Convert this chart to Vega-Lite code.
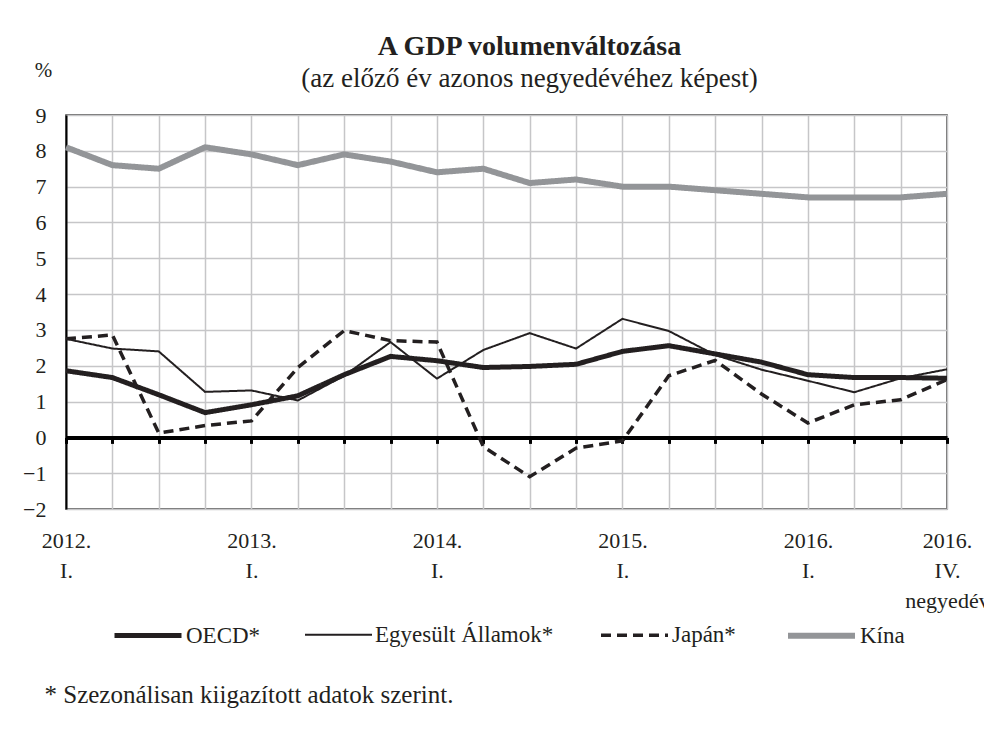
{
  "$schema": "https://vega.github.io/schema/vega-lite/v6.json",
  "autosize": {"type": "none"},
  "padding": {"left": 66, "top": 115, "right": 37, "bottom": 233},
  "width": 881,
  "height": 394,
  "background": "white",
  "config": {
    "font": "Liberation Serif",
    "view": {"stroke": "#3a3a3a", "strokeWidth": 1.5},
    "axis": {"labelFont": "Liberation Serif", "titleFont": "Liberation Serif", "labelColor": "#231f20", "titleColor": "#231f20"}
  },
  "title": {
    "text": "A GDP volumenváltozása",
    "subtitle": "(az előző év azonos negyedévéhez képest)",
    "anchor": "middle",
    "dx": 23,
    "font": "Liberation Serif",
    "fontSize": 28,
    "fontWeight": "bold",
    "color": "#231f20",
    "subtitleFontSize": 27,
    "subtitleColor": "#231f20",
    "subtitleFont": "Liberation Serif",
    "subtitlePadding": 5,
    "offset": -33
  },
  "data": {
    "values": [
      {"q": 0, "s": "OECD*", "v": 1.86}, {"q": 1, "s": "OECD*", "v": 1.67}, {"q": 2, "s": "OECD*", "v": 1.19}, {"q": 3, "s": "OECD*", "v": 0.69},
      {"q": 4, "s": "OECD*", "v": 0.91}, {"q": 5, "s": "OECD*", "v": 1.16}, {"q": 6, "s": "OECD*", "v": 1.75}, {"q": 7, "s": "OECD*", "v": 2.26},
      {"q": 8, "s": "OECD*", "v": 2.14}, {"q": 9, "s": "OECD*", "v": 1.95}, {"q": 10, "s": "OECD*", "v": 1.98}, {"q": 11, "s": "OECD*", "v": 2.04},
      {"q": 12, "s": "OECD*", "v": 2.40}, {"q": 13, "s": "OECD*", "v": 2.56}, {"q": 14, "s": "OECD*", "v": 2.33}, {"q": 15, "s": "OECD*", "v": 2.10},
      {"q": 16, "s": "OECD*", "v": 1.75}, {"q": 17, "s": "OECD*", "v": 1.67}, {"q": 18, "s": "OECD*", "v": 1.67}, {"q": 19, "s": "OECD*", "v": 1.65},
      {"q": 0, "s": "Egyesült Államok*", "v": 2.75}, {"q": 1, "s": "Egyesült Államok*", "v": 2.48}, {"q": 2, "s": "Egyesült Államok*", "v": 2.40}, {"q": 3, "s": "Egyesült Államok*", "v": 1.27},
      {"q": 4, "s": "Egyesült Államok*", "v": 1.31}, {"q": 5, "s": "Egyesült Államok*", "v": 1.03}, {"q": 6, "s": "Egyesült Államok*", "v": 1.72}, {"q": 7, "s": "Egyesült Államok*", "v": 2.66},
      {"q": 8, "s": "Egyesült Államok*", "v": 1.64}, {"q": 9, "s": "Egyesült Államok*", "v": 2.44}, {"q": 10, "s": "Egyesült Államok*", "v": 2.91}, {"q": 11, "s": "Egyesült Államok*", "v": 2.48},
      {"q": 12, "s": "Egyesült Államok*", "v": 3.31}, {"q": 13, "s": "Egyesült Államok*", "v": 2.97}, {"q": 14, "s": "Egyesült Államok*", "v": 2.30}, {"q": 15, "s": "Egyesült Államok*", "v": 1.89},
      {"q": 16, "s": "Egyesült Államok*", "v": 1.58}, {"q": 17, "s": "Egyesült Államok*", "v": 1.26}, {"q": 18, "s": "Egyesült Államok*", "v": 1.65}, {"q": 19, "s": "Egyesült Államok*", "v": 1.90},
      {"q": 0, "s": "Japán*", "v": 2.75}, {"q": 1, "s": "Japán*", "v": 2.86}, {"q": 2, "s": "Japán*", "v": 0.12}, {"q": 3, "s": "Japán*", "v": 0.33},
      {"q": 4, "s": "Japán*", "v": 0.46}, {"q": 5, "s": "Japán*", "v": 1.95}, {"q": 6, "s": "Japán*", "v": 2.98}, {"q": 7, "s": "Japán*", "v": 2.70},
      {"q": 8, "s": "Japán*", "v": 2.66}, {"q": 9, "s": "Japán*", "v": -0.26}, {"q": 10, "s": "Japán*", "v": -1.10}, {"q": 11, "s": "Japán*", "v": -0.30},
      {"q": 12, "s": "Japán*", "v": -0.10}, {"q": 13, "s": "Japán*", "v": 1.72}, {"q": 14, "s": "Japán*", "v": 2.15}, {"q": 15, "s": "Japán*", "v": 1.21},
      {"q": 16, "s": "Japán*", "v": 0.40}, {"q": 17, "s": "Japán*", "v": 0.91}, {"q": 18, "s": "Japán*", "v": 1.05}, {"q": 19, "s": "Japán*", "v": 1.61},
      {"q": 0, "s": "Kína", "v": 8.1}, {"q": 1, "s": "Kína", "v": 7.6}, {"q": 2, "s": "Kína", "v": 7.5}, {"q": 3, "s": "Kína", "v": 8.1},
      {"q": 4, "s": "Kína", "v": 7.9}, {"q": 5, "s": "Kína", "v": 7.6}, {"q": 6, "s": "Kína", "v": 7.9}, {"q": 7, "s": "Kína", "v": 7.7},
      {"q": 8, "s": "Kína", "v": 7.4}, {"q": 9, "s": "Kína", "v": 7.5}, {"q": 10, "s": "Kína", "v": 7.1}, {"q": 11, "s": "Kína", "v": 7.2},
      {"q": 12, "s": "Kína", "v": 7.0}, {"q": 13, "s": "Kína", "v": 7.0}, {"q": 14, "s": "Kína", "v": 6.9}, {"q": 15, "s": "Kína", "v": 6.8},
      {"q": 16, "s": "Kína", "v": 6.7}, {"q": 17, "s": "Kína", "v": 6.7}, {"q": 18, "s": "Kína", "v": 6.7}, {"q": 19, "s": "Kína", "v": 6.8}
    ]
  },
  "mark": {"type": "line", "strokeJoin": "miter", "strokeCap": "butt"},
  "encoding": {
    "x": {
      "field": "q",
      "type": "quantitative",
      "scale": {"domain": [0, 19], "nice": false, "zero": false},
      "axis": {
        "values": [0,1,2,3,4,5,6,7,8,9,10,11,12,13,14,15,16,17,18,19],
        "offset": -71.6,
        "grid": true,
        "gridColor": "#c6c6c8",
        "gridWidth": 1.5,
        "domainColor": "#000000",
        "domainWidth": 4,
        "tickColor": "#000000",
        "tickWidth": 3,
        "tickSize": 6,
        "labelFontSize": 22,
        "labelPadding": 87,
        "labelLineHeight": 30,
        "labelOverlap": false,
        "labelFlush": false,
        "labelBaseline": "top",
        "labelExpr": "datum.value==0?['2012.','I.']:datum.value==4?['2013.','I.']:datum.value==8?['2014.','I.']:datum.value==12?['2015.','I.']:datum.value==16?['2016.','I.']:datum.value==19?['2016.','IV.','negyedév']:''",
        "title": "* Szezonálisan kiigazított adatok szerint.",
        "titleFontSize": 25,
        "titleFontWeight": "normal",
        "titleX": -22,
        "titleY": 257,
        "titleAlign": "left",
        "titleAnchor": "start",
        "titleBaseline": "middle"
      }
    },
    "y": {
      "field": "v",
      "type": "quantitative",
      "scale": {"domain": [-2, 9], "nice": false},
      "axis": {
        "values": [-2,-1,0,1,2,3,4,5,6,7,8,9],
        "grid": true,
        "gridColor": "#c6c6c8",
        "gridWidth": 1.5,
        "ticks": false,
        "domainColor": "#000000",
        "domainWidth": 2,
        "labelFontSize": 22,
        "labelPadding": 20,
        "title": "%",
        "titleFontSize": 21,
        "titleFontWeight": "normal",
        "titleAngle": 0,
        "titleX": -23,
        "titleY": -45,
        "titleAlign": "center",
        "titleBaseline": "middle"
      }
    },
    "color": {
      "field": "s",
      "type": "nominal",
      "scale": {"domain": ["OECD*", "Egyesült Államok*", "Japán*", "Kína"], "range": ["#231f20", "#231f20", "#231f20", "#939598"]},
      "legend": {
        "orient": "none",
        "direction": "horizontal",
        "legendX": 46,
        "legendY": 484,
        "title": null,
        "symbolType": "stroke",
        "symbolSize": 4489,
        "labelFontSize": 23,
        "labelFont": "Liberation Serif",
        "labelColor": "#231f20",
        "labelOffset": 2,
        "labelLimit": 400,
        "columnPadding": 40,
        "padding": 0
      }
    },
    "strokeWidth": {
      "field": "s",
      "type": "nominal",
      "scale": {"type": "ordinal", "domain": ["OECD*", "Egyesült Államok*", "Japán*", "Kína"], "range": [5, 2, 3.5, 6]},
      "legend": null
    },
    "strokeDash": {
      "field": "s",
      "type": "nominal",
      "scale": {"domain": ["OECD*", "Egyesült Államok*", "Japán*", "Kína"], "range": [[1, 0], [1, 0], [10, 6], [1, 0]]},
      "legend": null
    },
    "order": {"field": "q", "type": "quantitative"}
  }
}
